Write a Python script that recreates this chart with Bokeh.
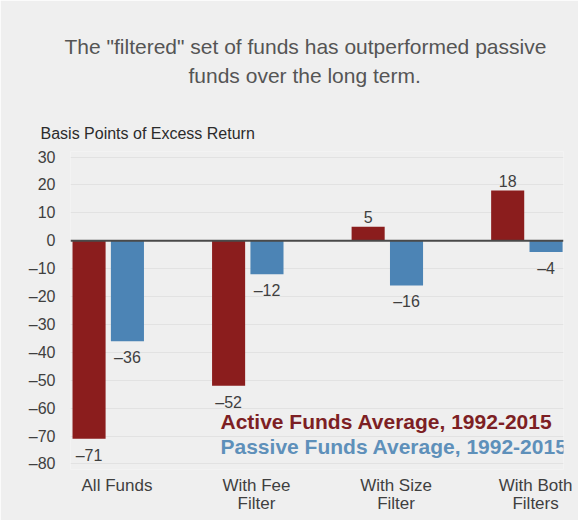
from bokeh.plotting import figure
from bokeh.models import (ColumnDataSource, Range1d, FixedTicker, Span, Label, Title)
from bokeh.transform import dodge
from bokeh.core.properties import value
from bokeh.embed import file_html
from bokeh.resources import INLINE

# ---------------- data ----------------
categories = ["All Funds", "With Fee\nFilter", "With Size\nFilter", "With Both\nFilters"]
active_avg = [-71, -52, 5, 18]
passive_avg = [-36, -12, -16, -4]
y_ticks = [30, 20, 10, 0, -10, -20, -30, -40, -50, -60, -70, -80]

title_lines = ['The "filtered" set of funds has outperformed passive',
               "funds over the long term."]
y_caption = "Basis Points of Excess Return"
active_name = "Active Funds Average, 1992-2015"
passive_name = "Passive Funds Average, 1992-2015"

# ---------------- style ----------------
FONT = "Liberation Sans"
BG = "#efefef"
RED = "#8b1d1d"
BLUE = "#4c84b5"
RED_TXT = "#7d1f24"
BLUE_TXT = "#5e90ba"
TXT = "#3f3f3f"

W, H = 578, 520
MB_L, MB_R, MB_T, MB_B = 70, 15, 151, 51
X0, X1 = -0.333, 3.2
Y0, Y1 = -82, 32
RED_OFF, BLUE_OFF, BAR_W = -0.2, 0.075, 0.237

xs = list(range(len(categories)))
src = ColumnDataSource(dict(x=xs, active=active_avg, passive=passive_avg))

p = figure(width=W, height=H, output_backend="svg", toolbar_location=None,
           x_range=Range1d(X0, X1), y_range=Range1d(Y0, Y1),
           min_border_left=MB_L, min_border_right=MB_R,
           min_border_top=MB_T, min_border_bottom=MB_B)
p.background_fill_color = BG
p.border_fill_color = BG
p.outline_line_color = None

p.vbar(x=dodge("x", RED_OFF, range=p.x_range), top="active", bottom=0,
       width=BAR_W, color=RED, line_color=None, source=src)
p.vbar(x=dodge("x", BLUE_OFF, range=p.x_range), top="passive", bottom=0,
       width=BAR_W, color=BLUE, line_color=None, source=src)

p.add_layout(Span(location=0, dimension="width", line_color="#4a4a4a", line_width=2))

# value labels
def label_source(vals, off):
    return ColumnDataSource(dict(
        x=[i + off for i in xs], y=vals,
        t=[("\u2013%d" % abs(v)) if v < 0 else str(v) for v in vals],
        base=["top" if v < 0 else "bottom" for v in vals],
        yo=[8 if v < 0 else -4 for v in vals]))

for vals, off in ((active_avg, RED_OFF), (passive_avg, BLUE_OFF)):
    p.text(x="x", y="y", text="t", source=label_source(vals, off),
           text_align="center", text_baseline="base", y_offset="yo",
           text_font_size="16px", text_color=TXT, text_font=value(FONT))

# axes
p.xgrid.grid_line_color = None
p.ygrid.ticker = FixedTicker(ticks=y_ticks)
p.ygrid.grid_line_color = "#e2e2e2"
p.ygrid.grid_line_width = 1

ya = p.yaxis[0]
ya.ticker = FixedTicker(ticks=y_ticks)
ya.major_label_overrides = {t: ("\u2013%d" % abs(t)) if t < 0 else str(t) for t in y_ticks}
ya.axis_line_color = None
ya.major_tick_line_color = None
ya.minor_tick_line_color = None
ya.major_label_standoff = 9
ya.major_label_text_font = FONT
ya.major_label_text_font_size = "16px"
ya.major_label_text_color = TXT

xa = p.xaxis[0]
xa.ticker = FixedTicker(ticks=xs)
xa.major_label_overrides = {i: c for i, c in zip(xs, categories)}
xa.axis_line_color = None
xa.major_tick_line_color = None
xa.major_tick_out = 0
xa.major_tick_in = 0
xa.minor_tick_line_color = None
xa.minor_tick_out = 0
xa.major_label_standoff = 6
xa.major_label_text_font = FONT
xa.major_label_text_font_size = "17px"
xa.major_label_text_color = TXT
xa.major_label_text_line_height = 0.95

# panels above the frame (first added = closest to the frame)
p.add_layout(Title(text=y_caption, align="left", offset=-30, text_font=FONT,
                   text_font_size="16px", text_font_style="normal",
                   text_color="#2b2b2b", standoff=19), "above")
# trailing blank line leaves the gap between the headline and the caption
p.add_layout(Title(text=title_lines[1] + "\n", align="left", offset=118, text_font=FONT,
                   text_font_size="21px", text_font_style="normal",
                   text_color="#555555", standoff=8), "above")
p.add_layout(Title(text=title_lines[0], align="left", offset=-6, text_font=FONT,
                   text_font_size="21px", text_font_style="normal",
                   text_color="#555555", standoff=0), "above")

# legend texts inside the frame
UX = (W - MB_L - MB_R) / (X1 - X0)
UY = (H - MB_T - MB_B) / (Y1 - Y0)
def dx(px):
    return X0 + (px - MB_L) / UX
def dy(py):
    return Y1 - (py - MB_T) / UY

for name, col, py in ((active_name, RED_TXT, 421), (passive_name, BLUE_TXT, 446)):
    p.add_layout(Label(x=dx(220), y=dy(py), text=name, text_align="left",
                       text_baseline="middle", text_font=FONT,
                       text_font_size="21px", text_font_style="bold",
                       text_color=col))

open("out.html", "w").write(file_html(p, INLINE))
